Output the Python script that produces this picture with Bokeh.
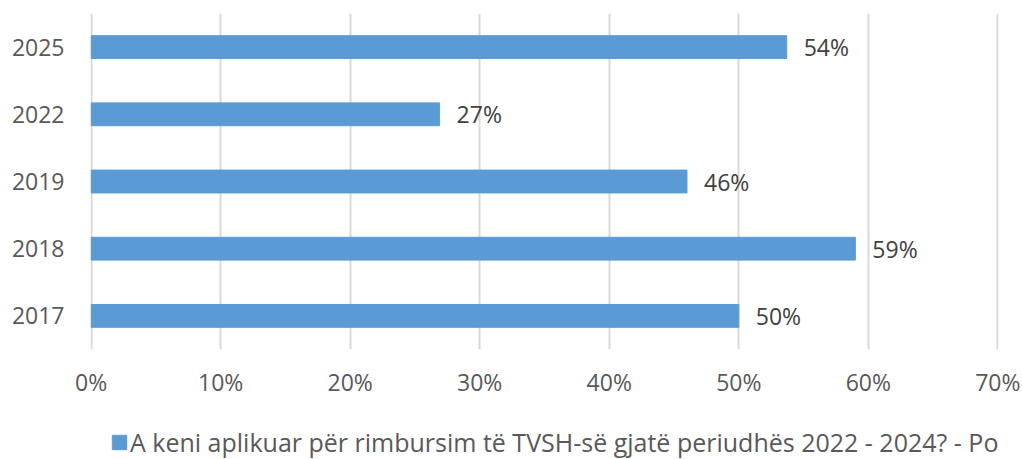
from bokeh.plotting import figure
from bokeh.layouts import column
from bokeh.models import (ColumnDataSource, FactorRange, Range1d, FixedTicker,
                          PrintfTickFormatter, Legend, LegendItem)
from bokeh.embed import file_html
from bokeh.resources import INLINE

# ---- data ----
years = ["2017", "2018", "2019", "2022", "2025"]
values = [50.0, 59.0, 46.0, 26.9, 53.7]
value_labels = ["50%", "59%", "46%", "27%", "54%"]
x_ticks = [0, 10, 20, 30, 40, 50, 60, 70]
series_name = "A keni aplikuar për rimbursim të TVSH-së gjatë periudhës 2022 - 2024? - Po"

FONT = "Open Sans"
BAR = "#5B9BD5"
FS = "23px"

src = ColumnDataSource(dict(year=years, value=values, label=value_labels))

# ---- main chart ----
p = figure(width=1022, height=400, output_backend="svg", toolbar_location=None,
           y_range=FactorRange(factors=years), x_range=Range1d(-0.05, 70.05),
           min_border_left=90, min_border_right=24, min_border_top=13,
           min_border_bottom=46)
p.outline_line_color = None
p.background_fill_color = "white"

bars = p.hbar(y="year", right="value", left=0, height=0.34, source=src,
              fill_color=BAR, line_color=BAR)

p.text(x="value", y="year", text="label", source=src, x_offset=17,
       text_baseline="middle", text_align="left", text_font_size=FS,
       text_color="#404040", text_font=dict(value=FONT))

p.xaxis.ticker = FixedTicker(ticks=x_ticks)
p.xaxis.formatter = PrintfTickFormatter(format="%d%%")
for ax in (p.xaxis[0], p.yaxis[0]):
    ax.axis_line_color = None
    ax.major_tick_line_color = None
    ax.minor_tick_line_color = None
    ax.major_tick_out = 0
    ax.major_tick_in = 0
    ax.major_label_text_font = FONT
    ax.major_label_text_font_size = FS
    ax.major_label_text_color = "#595959"
p.xaxis.major_label_standoff = 16
p.yaxis.major_label_standoff = 26

p.xgrid.grid_line_color = "#D9D9D9"
p.xgrid.grid_line_width = 2
p.ygrid.grid_line_color = None

# ---- legend strip ----
pl = figure(width=1022, height=59, output_backend="svg", toolbar_location=None,
            y_range=FactorRange(factors=years), x_range=Range1d(0, 70),
            min_border=0, x_axis_location=None, y_axis_location=None)
pl.outline_line_color = None
pl.grid.grid_line_color = None
proxy = pl.hbar(y="year", right="value", left=0, height=0.34, source=src,
                fill_color=BAR, line_color=BAR, visible=False)

legend = Legend(items=[LegendItem(label=series_name, renderers=[proxy])],
                location=(20, 0), orientation="horizontal",
                glyph_width=18, glyph_height=18, padding=0, margin=0,
                label_standoff=2, border_line_color=None,
                background_fill_alpha=0, label_text_font=FONT,
                label_text_font_size="25px", label_text_color="#595959")
pl.add_layout(legend, "center")

layout = column(p, pl, spacing=0)
open("out.html", "w").write(file_html(layout, INLINE))
